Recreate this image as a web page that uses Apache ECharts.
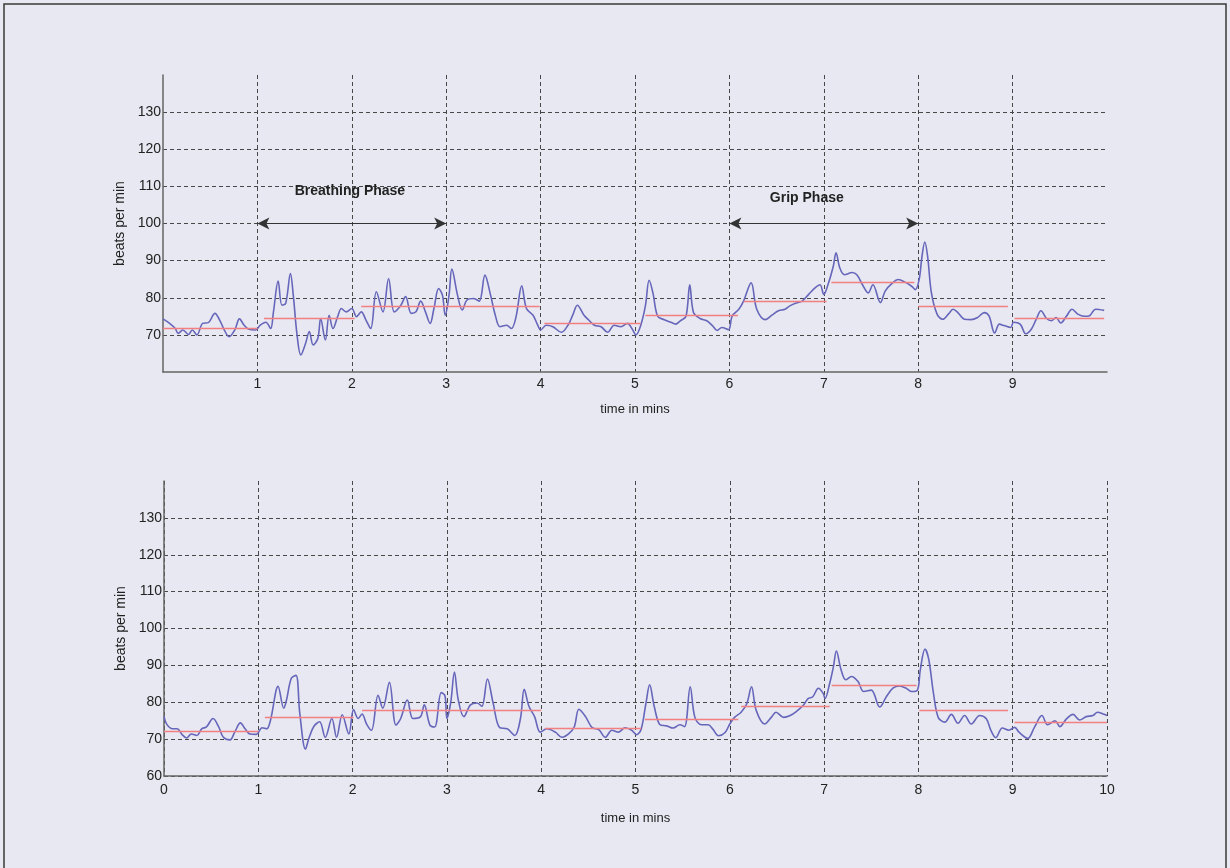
<!DOCTYPE html>
<html>
<head>
<meta charset="utf-8">
<script src="https://cdn.jsdelivr.net/npm/echarts@6/dist/echarts.min.js"></script>
<style>
  html, body { margin: 0; padding: 0; background: #e8e8f2; }
  #chart { width: 1230px; height: 868px; }
</style>
</head>
<body>
<div id="chart"></div>
<script>
// ---------- DATA ----------
const xTicks = [0, 1, 2, 3, 4, 5, 6, 7, 8, 9, 10];
const yTicks = [60, 70, 80, 90, 100, 110, 120, 130, 140];

const topTime = [0.00,0.07,0.13,0.16,0.21,0.27,0.31,0.36,0.42,0.48,0.55,0.60,0.65,0.70,0.76,0.81,0.86,0.91,0.98,1.03,1.09,1.14,1.17,1.22,1.26,1.30,1.35,1.38,1.42,1.46,1.51,1.55,1.59,1.64,1.67,1.72,1.76,1.80,1.85,1.89,1.94,2.00,2.05,2.10,2.15,2.20,2.26,2.33,2.39,2.45,2.52,2.57,2.63,2.68,2.73,2.78,2.83,2.87,2.92,2.96,2.99,3.03,3.06,3.12,3.17,3.22,3.29,3.35,3.41,3.47,3.52,3.57,3.64,3.69,3.74,3.80,3.85,3.92,3.97,4.00,4.06,4.13,4.22,4.29,4.34,4.39,4.46,4.51,4.57,4.64,4.71,4.78,4.85,4.92,
  4.97,5.01,5.06,5.11,5.15,5.19,5.24,5.31,5.38,5.43,5.48,5.54,5.58,5.62,5.69,5.76,5.82,5.87,5.92,5.99,6.03,6.10,6.15,6.23,6.29,6.38,6.45,6.52,6.59,6.64,6.70,6.77,6.84,6.91,6.96,7.00,7.05,7.10,7.13,7.17,7.22,7.30,7.35,7.41,7.47,7.52,7.60,7.65,7.72,7.79,7.86,7.93,7.97,8.01,8.04,8.07,8.10,8.14,8.20,8.26,8.32,8.37,8.42,8.49,8.56,8.63,8.70,8.75,8.81,8.86,8.91,8.98,9.01,9.08,9.14,9.20,9.25,9.30,9.36,9.41,9.46,9.51,9.57,9.63,9.69,9.76,9.81,9.88,9.97];
const topHR = [74.3,73.1,71.7,70.4,71.3,70.1,71.3,70.0,73.1,73.3,75.8,74.0,71.3,69.5,71.3,74.3,72.6,71.5,71.3,72.6,73.4,71.7,76.2,84.5,78.0,78.5,86.5,80.7,70.0,64.6,67.7,70.9,67.3,69.0,74.4,68.6,75.3,71.7,74.9,77.1,76.2,77.1,74.9,76.2,74.0,71.7,81.6,76.2,85.2,76.2,78.0,80.3,75.8,76.2,79.1,76.2,73.1,77.1,82.5,80.7,75.3,80.7,87.7,80.7,76.7,79.4,79.8,79.1,86.1,80.7,75.3,72.2,72.6,71.7,74.9,83.2,77.1,75.3,72.6,71.3,72.6,72.2,70.7,72.6,75.3,78.0,75.3,74.0,72.6,72.2,70.7,72.6,72.2,73.1,
  71.6,70.0,72.5,77.8,84.7,81.3,75.0,74.1,73.4,72.9,73.8,75.0,83.5,76.0,74.4,73.8,72.5,71.2,72.0,71.4,75.1,76.9,79.1,84.0,76.9,74.1,75.3,76.5,76.9,77.8,78.5,79.1,80.9,82.7,83.5,80.9,84.0,88.4,92.1,88.0,86.2,86.8,86.2,83.5,81.3,83.5,78.7,81.8,83.8,84.9,84.2,83.1,82.2,84.9,91.1,95.0,91.1,81.3,75.6,74.2,75.6,76.9,76.0,74.2,74.1,74.7,76.0,75.1,70.5,72.9,72.5,72.0,73.4,72.9,70.3,71.6,74.2,76.5,74.4,73.8,74.7,73.2,75.0,76.9,75.6,75.0,75.1,76.9,76.6];

const botTime = [0.00,0.03,0.09,0.14,0.19,0.24,0.29,0.35,0.40,0.45,0.52,0.58,0.63,0.70,0.75,0.81,0.86,0.91,0.98,1.04,1.09,1.13,1.21,1.27,1.30,1.35,1.40,1.44,1.50,1.54,1.59,1.65,1.71,1.78,1.83,1.89,1.96,2.01,2.06,2.10,2.15,2.20,2.27,2.32,2.39,2.46,2.51,2.58,2.64,2.72,2.76,2.82,2.87,2.94,2.98,3.00,3.04,3.08,3.12,3.18,3.25,3.32,3.37,3.43,3.49,3.56,3.64,3.72,3.78,3.82,3.87,3.93,3.99,4.06,4.15,4.22,4.29,4.35,4.40,4.47,4.54,4.61,4.68,4.75,4.82,4.89,4.96,
  5.01,5.06,5.11,5.15,5.20,5.26,5.33,5.40,5.47,5.52,5.58,5.63,5.70,5.77,5.82,5.88,5.95,6.00,6.05,6.12,6.18,6.23,6.28,6.37,6.44,6.49,6.57,6.64,6.71,6.78,6.83,6.88,6.94,6.99,7.01,7.06,7.10,7.13,7.18,7.23,7.29,7.36,7.42,7.50,7.59,7.66,7.73,7.80,7.87,7.93,7.99,8.02,8.07,8.11,8.16,8.21,8.28,8.35,8.42,8.49,8.56,8.65,8.72,8.77,8.82,8.89,8.96,9.02,9.07,9.16,9.23,9.31,9.37,9.45,9.50,9.57,9.64,9.71,9.78,9.85,9.90,9.96,10.0];
const botHR = [76.1,74.0,72.8,72.8,71.3,70.3,71.4,71.0,72.8,73.3,75.6,73.3,70.5,69.8,71.9,74.4,72.8,71.4,71.3,73.1,72.8,75.2,84.3,78.4,80.7,86.5,87.3,77.0,67.3,70.5,73.5,74.7,70.5,75.6,70.5,76.6,71.4,78.0,75.6,76.8,74.0,72.4,81.9,78.4,85.4,73.8,75.6,80.6,75.6,76.1,79.3,73.8,73.3,82.6,81.7,75.6,79.8,88.2,80.7,76.1,79.3,79.8,78.9,86.3,79.8,73.1,72.8,71.0,75.6,83.5,78.9,76.1,71.9,72.8,71.9,70.5,71.4,73.3,78.1,76.1,73.1,72.6,70.5,72.4,71.9,73.1,72.4,
  71.2,72.7,79.6,84.7,78.7,73.9,73.6,73.0,73.9,73.4,84.2,75.9,73.9,73.9,72.7,70.9,71.8,74.1,75.9,77.3,79.6,84.2,77.8,74.1,75.9,77.3,75.9,76.4,77.6,79.2,81.0,81.5,83.8,82.4,81.0,85.2,89.8,93.9,88.8,86.1,87.0,85.6,82.9,83.3,78.7,81.5,83.8,84.4,83.8,82.9,83.3,88.8,94.4,91.6,82.4,75.9,74.6,76.7,74.3,76.4,74.1,76.4,75.5,72.3,70.4,73.0,72.4,73.2,71.8,70.2,73.2,76.4,73.9,75.0,73.4,75.5,76.7,75.2,76.1,76.4,77.3,76.8,76.4];

// per-minute mean HR segments
const topMeanStart = [0.00, 1.07, 2.10, 4.04, 5.11, 6.15, 7.08, 8.00, 9.02];
const topMeanEnd   = [1.00, 2.03, 3.99, 5.06, 6.09, 7.03, 7.96, 8.95, 9.97];
const topMeanVal   = [71.9, 74.4, 77.6, 73.1, 75.4, 79.1, 84.2, 77.6, 74.4];

const botMeanStart = [0.00, 1.07, 2.10, 4.04, 5.10, 6.12, 7.08, 8.01, 9.02];
const botMeanEnd   = [1.00, 2.01, 4.00, 5.06, 6.09, 7.06, 7.98, 8.95, 10.0];
const botMeanVal   = [72.2, 75.9, 77.8, 72.9, 75.5, 78.9, 84.5, 77.8, 74.6];

// phase annotations (top chart)
const phaseNames = ['Breathing Phase', 'Grip Phase'];
const phaseStart = [1, 6];
const phaseEnd   = [3, 8];
const phaseLevel = 100;
const phaseLabelPos = [[1.98, 108.7], [6.82, 106.9]];

// ---------- BUILD ----------
const FONT = 'Liberation Sans, Arial, sans-serif';
const pairs = (t, v) => t.map((x, i) => [x, v[i]]);
const meanLines = (s, e, v) => s.map((x, i) => [{ coord: [x, v[i]] }, { coord: [e[i], v[i]] }]);
const MEAN_STYLE = { color: '#f28080', width: 1.3, type: 'solid', opacity: 1 };

function xAxisCfg(gridIndex, isTop) {
  return {
    type: 'value', gridIndex, min: xTicks[0], max: xTicks[xTicks.length - 1], interval: 1,
    name: 'time in mins', nameLocation: 'middle', nameGap: isTop ? 31 : 36,
    nameTextStyle: { fontFamily: FONT, fontSize: 13, color: '#222' },
    axisLine: { show: true, lineStyle: { color: '#666', width: 1.5 } },
    axisTick: { show: false },
    axisLabel: { fontFamily: FONT, fontSize: 14, color: '#222', margin: isTop ? 5 : 7,
                 showMinLabel: !isTop, showMaxLabel: !isTop },
    splitLine: { show: true, showMinLine: !isTop, showMaxLine: !isTop,
                 lineStyle: { color: '#484848', type: [4, 3], width: 1 } }
  };
}
function yAxisCfg(gridIndex, isTop) {
  return {
    type: 'value', gridIndex, min: yTicks[0], max: yTicks[yTicks.length - 1], interval: 10,
    name: 'beats per min', nameLocation: 'middle', nameGap: 35, nameRotate: 90,
    nameTextStyle: { fontFamily: FONT, fontSize: 14, color: '#222' },
    axisLine: { show: true, lineStyle: { color: '#666', width: 1.5 } },
    axisTick: { show: false },
    axisLabel: { fontFamily: FONT, fontSize: 14, color: '#222', margin: 2,
                 showMinLabel: !isTop, showMaxLabel: false },
    splitLine: { show: true, showMinLine: !isTop, showMaxLine: false,
                 lineStyle: { color: '#484848', type: [4, 3], width: 1 } }
  };
}

const chart = echarts.init(document.getElementById('chart'), null, { renderer: 'canvas' });
chart.setOption({
  backgroundColor: '#e8e8f2',
  animation: false,
  grid: [
    { left: 163, right: 123, top: 75, bottom: 496 },
    { left: 164, right: 123, top: 481, bottom: 92 }
  ],
  xAxis: [xAxisCfg(0, true), xAxisCfg(1, false)],
  yAxis: [yAxisCfg(0, true), yAxisCfg(1, false)],
  graphic: [{
    type: 'rect', shape: { x: 4, y: 4, width: 1222, height: 900 },
    style: { fill: 'none', stroke: '#3a3a3a', lineWidth: 1.5 }, silent: true
  }],
  series: [
    {
      type: 'line', xAxisIndex: 0, yAxisIndex: 0, data: pairs(topTime, topHR),
      smooth: 0.35, showSymbol: false, lineStyle: { color: '#6666bb', width: 1.6 }, z: 3,
      markLine: {
        silent: true, symbol: 'none', animation: false,
        lineStyle: MEAN_STYLE, emphasis: { disabled: true }, label: { show: false },
        data: meanLines(topMeanStart, topMeanEnd, topMeanVal)
      }
    },
    {
      type: 'line', xAxisIndex: 1, yAxisIndex: 1, data: pairs(botTime, botHR),
      smooth: 0.35, showSymbol: false, lineStyle: { color: '#6666bb', width: 1.6 }, z: 3,
      markLine: {
        silent: true, symbol: 'none', animation: false,
        lineStyle: MEAN_STYLE, emphasis: { disabled: true }, label: { show: false },
        data: meanLines(botMeanStart, botMeanEnd, botMeanVal)
      }
    },
    {
      type: 'line', xAxisIndex: 0, yAxisIndex: 0, data: [], z: 4,
      markLine: {
        silent: true, animation: false, symbol: ['arrow', 'arrow'], symbolSize: [9, 12],
        lineStyle: { color: '#333', width: 1.2, type: 'solid' }, label: { show: false },
        data: phaseStart.map((s, i) => [{ coord: [s, phaseLevel] }, { coord: [phaseEnd[i], phaseLevel] }])
      },
      markPoint: {
        silent: true, animation: false, symbolSize: 0,
        label: { show: true, position: 'inside', fontFamily: FONT, fontSize: 14, fontWeight: 'bold',
                 color: '#222', formatter: p => p.name },
        data: phaseNames.map((n, i) => ({ name: n, coord: phaseLabelPos[i] }))
      }
    }
  ]
});
</script>
</body>
</html>
